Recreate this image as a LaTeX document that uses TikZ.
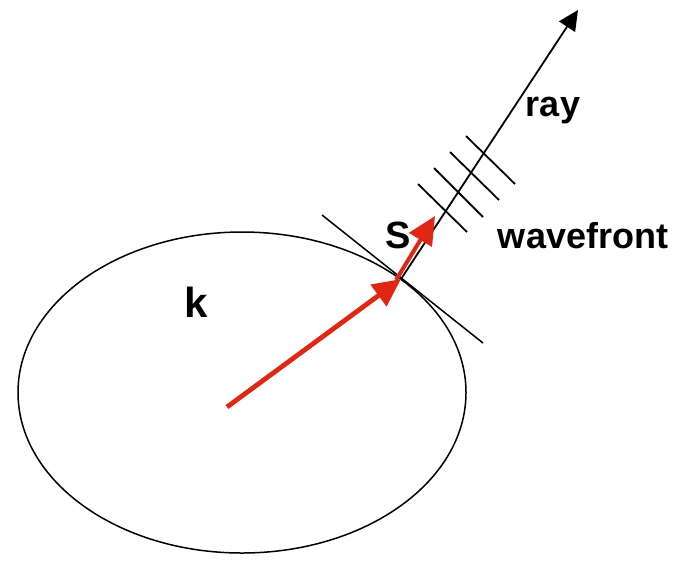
\documentclass[tikz,border=0pt]{standalone}
\usepackage{fontspec}
\setmainfont{Liberation Sans}
\usetikzlibrary{arrows.meta}
\definecolor{kred}{RGB}{222,40,20}
\tikzset{
  thin line/.style={line width=0.75pt,black},
  wave line/.style={line width=0.9pt,black},
  red vec/.style={kred,line width=2.4pt,-{Triangle[length=14pt,width=13pt]}},
  lbl/.style={font=\bfseries\fontsize{18}{20}\selectfont,inner sep=0pt,anchor=base},
}
\begin{document}
\begin{tikzpicture}[x=0.5pt,y=-0.5pt]
\useasboundingbox (0,0) rectangle (683,569);
% ellipse
\draw[thin line] (242,392.5) ellipse [x radius=224, y radius=160.5];
% points
\coordinate (O) at (227,407);
\coordinate (P) at (401,279);
\coordinate (Sstart) at (396,280);
\coordinate (Send) at (435,216);
\coordinate (Rend) at (578,10);
\coordinate (T1) at (322,215);
\coordinate (T2) at (483,343);
% tangent
\draw[thin line] (T1) -- (T2);
% wavefront lines
\coordinate (w1a) at (418,184); \coordinate (w1b) at (467,232);
\coordinate (w2a) at (434,168); \coordinate (w2b) at (483,217);
\coordinate (w3a) at (450,152); \coordinate (w3b) at (499,200);
\coordinate (w4a) at (466,136); \coordinate (w4b) at (515,184);
\draw[wave line] (w1a) -- (w1b);
\draw[wave line] (w2a) -- (w2b);
\draw[wave line] (w3a) -- (w3b);
\draw[wave line] (w4a) -- (w4b);
% ray
\draw[wave line,-{Triangle[length=10pt,width=9.5pt]}] (P) -- (Rend);
% red vectors
\draw[red vec] (O) -- (P);
\draw[red vec,line width=2pt] (Sstart) -- (Send);
% labels
\node[lbl] (ray) at (553,116) {ray};
\node[lbl] (wf) at (583,248) {wavefront};
\node[lbl,font=\bfseries\fontsize{19}{21}\selectfont] (S) at (398,248) {S};
\node[lbl,font=\bfseries\fontsize{21}{23}\selectfont] (k) at (196,317) {k};
\end{tikzpicture}
\end{document}
